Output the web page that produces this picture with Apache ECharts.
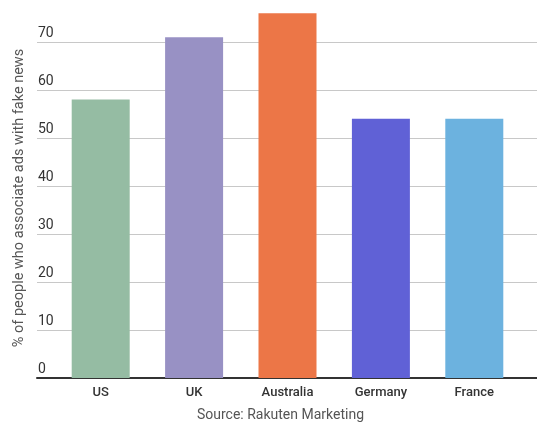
<!DOCTYPE html>
<html>
<head>
<meta charset="utf-8">
<script src="https://cdn.jsdelivr.net/npm/echarts@6/dist/echarts.min.js"></script>
<style>
  html, body { margin: 0; padding: 0; background: #fff; }
  #chartArea { width: 537px; height: 424px; }
</style>
</head>
<body>
<div id="chartArea"></div>
<script>
var countries = ['US', 'UK', 'Australia', 'Germany', 'France'];
var shares = [58, 71, 76, 54, 54];
var barColors = ['#95bca3', '#9891c4', '#ec7647', '#6061d6', '#6cb2df'];
var yTicks = [0, 10, 20, 30, 40, 50, 60, 70, 80];

var myChart = echarts.init(document.getElementById('chartArea'));

var font = 'Roboto, "Noto Sans", sans-serif';

myChart.setOption({
    animation: false,
    textStyle: { fontFamily: font },
    grid: [
        { left: 37, right: 0, top: -6, bottom: 46, outerBoundsMode: 'none' },
        { left: 54, right: 16, top: -6, bottom: 46, outerBoundsMode: 'none' }
    ],
    xAxis: [
        {
            gridIndex: 0,
            type: 'category',
            data: countries,
            axisLine: { lineStyle: { color: '#333', width: 2 } },
            axisTick: { show: false },
            axisLabel: { show: false }
        },
        {
            gridIndex: 1,
            type: 'category',
            data: countries,
            axisLine: { show: false },
            axisTick: { show: false },
            axisLabel: { color: '#333', fontSize: 13, fontWeight: 500, margin: 8 },
            name: 'Source: Rakuten Marketing',
            nameLocation: 'middle',
            nameGap: 30,
            nameTextStyle: { color: '#555', fontSize: 14, padding: [0, 14, 0, 0] }
        }
    ],
    yAxis: [
        {
            gridIndex: 0,
            type: 'value',
            min: yTicks[0],
            max: yTicks[yTicks.length - 1],
            interval: 10,
            axisLine: { show: false },
            axisTick: { show: false },
            splitLine: { lineStyle: { color: '#c8c8c8', width: 1.2 } },
            axisLabel: {
                inside: true,
                margin: 1,
                color: '#333',
                fontSize: 14,
                verticalAlign: 'bottom',
                padding: [0, 0, 2, 0],
                formatter: function(v) { return v === 80 ? '' : String(v); }
            },
            name: '% of people who associate ads with fake news',
            nameLocation: 'middle',
            nameRotate: 90,
            nameGap: 2,
            nameTextStyle: { color: '#555', fontSize: 14.5, padding: [20, 24, 0, 0] }
        },
        {
            gridIndex: 1,
            type: 'value',
            min: yTicks[0],
            max: yTicks[yTicks.length - 1],
            show: false
        }
    ],
    series: [{
        type: 'bar',
        xAxisIndex: 1,
        yAxisIndex: 1,
        barWidth: 58,
        data: shares.map(function(v, i) {
            return { value: v, itemStyle: { color: barColors[i] } };
        })
    }]
});
</script>
</body>
</html>
